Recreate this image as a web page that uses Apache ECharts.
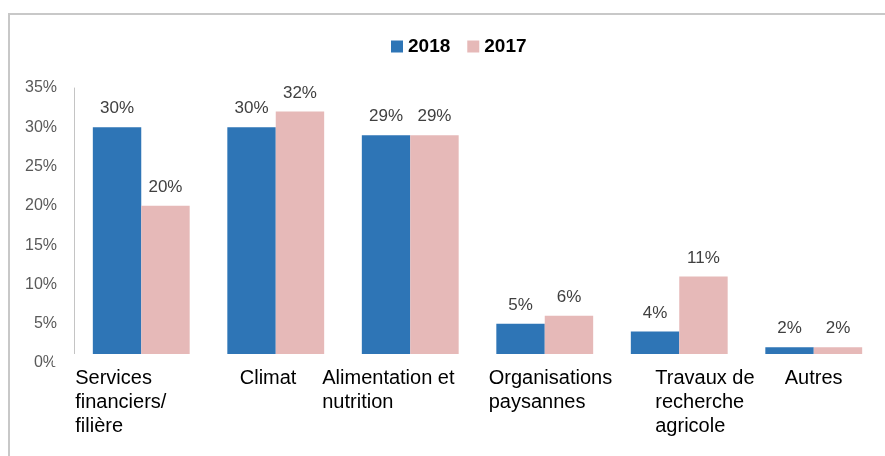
<!DOCTYPE html>
<html>
<head>
<meta charset="utf-8">
<script src="https://cdn.jsdelivr.net/npm/echarts@6/dist/echarts.min.js"></script>
<style>
  html, body { margin: 0; padding: 0; background: #fff; }
  #chart { width: 885px; height: 456px; }
</style>
</head>
<body>
<div id="chart"></div>
<script>
    'use strict';

    // data
    const categories = [
        'Services\nfinanciers/\nfilière',
        'Climat',
        'Alimentation et\nnutrition',
        'Organisations\npaysannes',
        'Travaux de\nrecherche\nagricole',
        'Autres'
    ];
    const seriesNames = ['2018', '2017'];
    const values2018 = [30, 30, 29, 5, 4, 2];
    const values2017 = [20, 32, 29, 6, 11, 2];
    const yMin = 0, yMax = 35, yStep = 5;

    // box width of each x label (text is left aligned inside it)
    const labelBoxW = [132, 72, 176, 112, 48, 58];

    const font = "'Liberation Sans', Arial, sans-serif";

    let rich = {};
    labelBoxW.forEach((w, i) => {
        rich['c' + i] = { width: w, align: 'left', fontSize: 20, lineHeight: 24, color: '#000', fontFamily: font };
    });

    function barSeries(name, data, color) {
        return {
            name: name,
            type: 'bar',
            data: data,
            barGap: '0%',
            barCategoryGap: '28%',
            itemStyle: { color: color },
            label: {
                show: true,
                position: 'top',
                distance: 10,
                formatter: '{c}%',
                fontSize: 17,
                color: '#404040',
                fontFamily: font
            }
        };
    }

    let chart = echarts.init(document.getElementById('chart'));

    chart.setOption({
        animation: false,
        textStyle: { fontFamily: font },
        legend: {
            data: seriesNames,
            left: 386,
            top: 32,
            icon: 'rect',
            itemWidth: 12,
            itemHeight: 12,
            itemGap: 17,
            textStyle: { fontSize: 19, fontWeight: 'bold', color: '#000', fontFamily: font }
        },
        grid: { left: 74, right: 4, top: 88, bottom: 93, containLabel: false },
        xAxis: {
            type: 'category',
            data: categories,
            axisLine: { show: false },
            axisTick: { show: false },
            axisLabel: {
                interval: 0,
                margin: 3,
                formatter: (v, i) => v.split('\n').map(s => '{c' + i + '|' + s + '}').join('\n'),
                rich: rich
            }
        },
        yAxis: {
            type: 'value',
            min: yMin,
            max: yMax,
            interval: yStep,
            axisLine: { show: true, lineStyle: { color: '#c4c4c4', width: 1 } },
            axisTick: { show: false },
            splitLine: { show: false },
            axisLabel: { formatter: '{value}%', fontSize: 16, color: '#595959', margin: 17, fontFamily: font }
        },
        graphic: [
            // outer frame of the chart box
            {
                type: 'rect', z: 100, silent: true,
                shape: { x: 9, y: 14, width: 1000, height: 600 },
                style: { fill: 'none', stroke: '#c8c8c8', lineWidth: 2 }
            },
            // white band hiding the plot bottom, as in the picture
            {
                type: 'rect', z: 100, silent: true,
                shape: { x: 53, y: 354, width: 832, height: 12 },
                style: { fill: '#fff' }
            }
        ],
        series: [
            barSeries(seriesNames[0], values2018, '#2e75b6'),
            barSeries(seriesNames[1], values2017, '#e6b9b8')
        ]
    });
</script>
</body>
</html>
